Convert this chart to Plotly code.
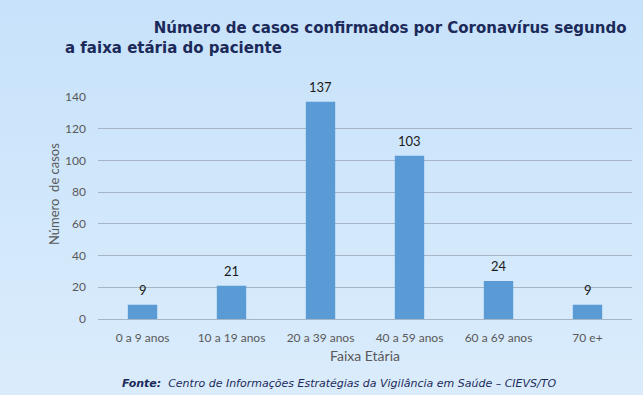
import plotly.graph_objects as go

categories = ["0 a 9 anos", "10 a 19 anos", "20 a 39 anos", "40 a 59 anos", "60 a 69 anos", "70 e+"]
cases = [9, 21, 137, 103, 24, 9]
y_ticks = [0, 20, 40, 60, 80, 100, 120, 140]

title_line1 = "Número de casos confirmados por Coronavírus segundo"
title_line2 = "a faixa etária do paciente"
x_title = "Faixa Etária"
y_title = "Número  de casos"
source_bold = "Fonte:"
source_text = "Centro de Informações Estratégias da Vigilância em Saúde – CIEVS/TO"

W, H = 643, 395
navy = "#1c2a5a"
tick_col = "#595959"
grid_col = "#a6b5c6"

fig = go.Figure()

fig.add_trace(go.Scatter(
    x=[-0.1, 1.1, 1.1, -0.1, -0.1], y=[-0.1, -0.1, 1.1, 1.1, -0.1], mode="lines", fill="toself",
    line=dict(width=0), hoverinfo="skip", showlegend=False,
    fillgradient=dict(type="vertical", colorscale=[[0, "#dcedfc"], [1, "#c5e1fa"]]),
    xaxis="x", yaxis="y",
))

fig.add_trace(go.Bar(
    x=categories, y=cases, marker=dict(color="#5b9bd5", line=dict(width=0)),
    width=0.33, showlegend=False, xaxis="x2", yaxis="y2",
))

for cat, val in zip(categories, cases):
    fig.add_annotation(x=cat, y=val, xref="x2", yref="y2", text=str(val), showarrow=False,
                       yanchor="bottom", yshift=5,
                       font=dict(family="Lato", size=13, color="#1a1a1a"))

fig.update_layout(
    width=W, height=H, autosize=False,
    margin=dict(l=0, r=0, t=0, b=0, pad=0, autoexpand=False),
    paper_bgcolor="#d0e8fb", plot_bgcolor="rgba(0,0,0,0)",
    font=dict(family="Lato", color=tick_col),
    xaxis=dict(domain=[0, 1], range=[0, 1], visible=False, fixedrange=True, automargin=False),
    yaxis=dict(domain=[0, 1], range=[0, 1], visible=False, fixedrange=True, automargin=False),
    xaxis2=dict(domain=[98 / W, 632 / W], anchor="y2", showgrid=False, showline=False, automargin=False,
                tickfont=dict(size=12, color=tick_col), ticks="", ticklabelstandoff=10,
                title=dict(text=x_title, font=dict(size=14, color=tick_col), standoff=7)),
    yaxis2=dict(domain=[1 - 319 / H, 1 - 97 / H], anchor="x2", range=[0, 140], automargin=False,
                tickvals=y_ticks, showgrid=True, gridcolor=grid_col, gridwidth=1,
                zeroline=True, zerolinecolor=grid_col, zerolinewidth=1,
                showline=False, tickfont=dict(size=12, color=tick_col), ticklabelstandoff=11),
    bargap=0.6,
)

# y-axis title (placed as in the reference, slightly above the plot centre)
fig.add_annotation(text=y_title, xref="paper", yref="paper", x=54 / W, y=1 - 194 / H,
                   xanchor="center", yanchor="middle", textangle=-90, showarrow=False,
                   font=dict(family="Lato", size=13, color=tick_col))

indent = "\u00a0" * 17
fig.add_annotation(text="<b>" + indent + title_line1 + "<br>" + title_line2 + "</b>",
                   xref="paper", yref="paper", x=63 / W, y=1 - 38 / H, align="left",
                   xanchor="left", yanchor="middle", showarrow=False,
                   font=dict(family="DejaVu Sans", size=15, color=navy))
fig.add_annotation(text="<b><i>" + source_bold + "</i></b>  <i>" + source_text + "</i>",
                   xref="paper", yref="paper", x=339 / W, y=1 - 383 / H,
                   xanchor="center", yanchor="middle", showarrow=False,
                   font=dict(family="DejaVu Sans", size=11, color=navy))

fig.write_html("out.html", config={"displayModeBar": False},
               post_script="document.body.style.margin='0';document.body.style.overflow='hidden';")
